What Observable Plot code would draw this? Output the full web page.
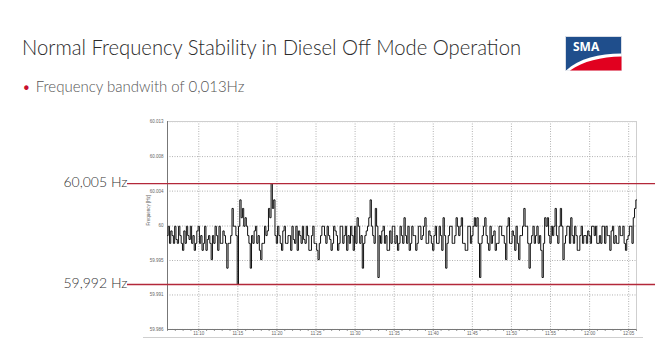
<!DOCTYPE html>
<html>
<head>
<meta charset="utf-8">
<script src="https://cdn.jsdelivr.net/npm/d3@7"></script>
<script src="https://cdn.jsdelivr.net/npm/@observablehq/plot@0.6"></script>
<style>
  html, body { margin: 0; padding: 0; background: #fff; }
  #page { position: relative; width: 662px; height: 353px; overflow: hidden; background: #fff; font-family: Lato, "Open Sans", sans-serif; }
  #title { position: absolute; left: 22px; top: 36px; font-size: 22px; font-weight: 300; color: #2b2b2b; white-space: nowrap; line-height: 1; transform: scaleX(0.92); transform-origin: left top; }
  #subtitle { position: absolute; left: 22px; top: 79px; font-size: 15px; font-weight: 300; color: #555; white-space: nowrap; line-height: 1; }
  #subtitle .bullet { color: #c8102e; margin-right: 5px; }
  #logo { position: absolute; left: 565px; top: 36px; }
  #chart { position: absolute; left: 0; top: 110px; }
  #baseline { position: absolute; left: 143px; top: 337px; width: 500px; height: 1px; background: #cfcfcf; }
</style>
</head>
<body>
<div id="page">
  <div id="title">Normal Frequency Stability in Diesel Off Mode Operation</div>
  <div id="subtitle"><span class="bullet">•</span>Frequency bandwith of 0,013Hz</div>
  <svg id="logo" width="57" height="35" viewBox="0 0 57 35">
    <rect x="0.5" y="0.5" width="56" height="34" fill="#1f4e8c" stroke="#d8dde6" stroke-width="1"/>
    <path d="M1 34.5 C 14 22, 34 18, 56.5 17.5 L 56.5 34.5 Z" fill="#ffffff"/>
    <path d="M5 34.5 C 18 25, 36 21, 56.5 20.5 L 56.5 34.5 Z" fill="#e1001f"/>
    <text x="8" y="15" font-family="Open Sans, Liberation Sans, sans-serif" font-weight="700" font-size="12" fill="#ffffff">SMA</text>
  </svg>
  <div id="chart"></div>
  <div id="baseline"></div>
</div>
<script>
// ---- data ----
const sampleStart = "11:06:00";
const sampleSeconds = 10;
const sampleValues = [
  59.9983, 59.9995, 59.9973, 59.9989, 59.9983, 59.9973, 59.9995, 59.9978, 59.9973, 59.9995, 59.9983, 59.9973, 59.9964, 59.9989, 59.9973, 59.9995, 59.9983, 59.9978, 59.9995, 59.9973,
  59.9983, 59.9964, 59.9973, 59.9989, 59.9995, 59.9973, 59.9983, 59.9964, 59.9973, 59.9995, 59.9964, 59.9978, 59.9983, 59.9973, 59.9952, 59.9983, 59.9973, 59.9995, 59.9983, 59.9964,
  59.9995, 59.9973, 59.9973, 59.9989, 59.9983, 59.9973, 59.9941, 59.9973, 59.9973, 59.9983, 60.0018, 59.9995, 59.9995, 59.9983, 59.9920, 59.9995, 60.0029, 60.0006, 60.0018, 59.9995,
  60.0006, 59.9995, 59.9983, 59.9973, 59.9941, 59.9983, 59.9973, 59.9989, 59.9995, 59.9973, 59.9983, 59.9964, 59.9952, 59.9973, 59.9973, 59.9995, 59.9983, 59.9989, 60.0018, 60.0006,
  60.0050, 60.0018, 60.0029, 59.9983, 59.9973, 59.9995, 59.9983, 59.9973, 59.9964, 59.9989, 59.9995, 59.9973, 59.9973, 59.9983, 59.9983, 59.9964, 59.9995, 59.9978, 59.9973, 59.9995,
  59.9964, 59.9989, 59.9983, 59.9973, 59.9995, 59.9978, 59.9973, 59.9995, 59.9983, 59.9964, 59.9964, 59.9983, 59.9995, 59.9973, 59.9973, 59.9964, 59.9952, 59.9973, 59.9983, 59.9995,
  59.9995, 59.9983, 59.9973, 59.9995, 59.9983, 59.9978, 59.9964, 59.9973, 59.9995, 59.9989, 59.9983, 59.9964, 59.9973, 59.9995, 59.9995, 59.9973, 59.9983, 59.9995, 59.9964, 59.9983,
  59.9973, 59.9995, 59.9983, 59.9964, 59.9995, 59.9973, 60.0006, 59.9995, 59.9973, 59.9983, 59.9941, 59.9973, 59.9983, 59.9989, 59.9995, 60.0006, 60.0029, 59.9995, 59.9983, 59.9973,
  60.0018, 59.9995, 59.9929, 59.9983, 59.9973, 59.9989, 59.9995, 59.9973, 59.9983, 59.9964, 59.9964, 59.9989, 59.9973, 59.9995, 59.9995, 59.9973, 59.9983, 59.9964, 59.9973, 59.9995,
  59.9983, 59.9973, 60.0006, 59.9983, 59.9973, 59.9995, 59.9964, 59.9973, 59.9995, 59.9983, 59.9983, 59.9964, 59.9973, 59.9995, 59.9995, 59.9978, 59.9983, 59.9995, 60.0006, 59.9973,
  59.9973, 59.9989, 59.9983, 59.9973, 59.9964, 59.9983, 59.9995, 59.9973, 59.9973, 59.9995, 59.9983, 59.9964, 60.0006, 59.9983, 59.9941, 59.9973, 59.9983, 59.9995, 59.9995, 59.9973,
  59.9973, 59.9983, 60.0006, 59.9995, 59.9983, 59.9995, 60.0006, 59.9973, 59.9973, 59.9964, 59.9964, 59.9995, 59.9995, 59.9973, 59.9983, 59.9995, 60.0006, 59.9995, 60.0006, 59.9973,
  59.9929, 59.9973, 59.9983, 59.9995, 60.0006, 59.9983, 59.9973, 59.9964, 59.9995, 59.9973, 59.9983, 59.9989, 59.9964, 59.9973, 59.9973, 59.9995, 59.9995, 59.9983, 59.9983, 59.9973,
  59.9952, 59.9995, 60.0006, 59.9973, 59.9973, 59.9989, 59.9983, 59.9964, 59.9995, 59.9973, 59.9952, 59.9983, 59.9983, 59.9995, 60.0018, 59.9995, 59.9995, 59.9973, 59.9941, 59.9973,
  59.9983, 59.9995, 59.9973, 59.9983, 59.9995, 59.9973, 59.9983, 59.9964, 59.9929, 59.9973, 60.0006, 59.9995, 60.0006, 59.9983, 59.9973, 59.9995, 59.9983, 59.9995, 60.0018, 59.9983,
  59.9973, 59.9995, 60.0018, 59.9995, 59.9952, 59.9973, 59.9983, 59.9995, 59.9995, 59.9973, 60.0006, 59.9983, 59.9973, 59.9995, 59.9983, 59.9964, 59.9964, 59.9983, 59.9995, 59.9973,
  59.9983, 59.9983, 59.9973, 59.9989, 59.9983, 59.9973, 59.9995, 59.9995, 59.9983, 59.9995, 59.9973, 59.9973, 59.9983, 59.9973, 59.9995, 59.9995, 59.9973, 59.9995, 59.9983, 59.9983,
  59.9964, 59.9989, 59.9995, 59.9973, 59.9983, 59.9973, 59.9973, 59.9995, 59.9983, 59.9983, 59.9995, 59.9973, 59.9964, 59.9978, 59.9983, 59.9995, 59.9995, 59.9973, 60.0006, 60.0018,
  60.0029
];
const xDomain = ["11:06", "12:06"];
const xTickTimes = ["11:10","11:15","11:20","11:25","11:30","11:35","11:40","11:45","11:50","11:55","12:00","12:05"];
const xTickLabels = ["11:10","11:15","11:20","11:25","11:30","11:35","11:40","11:45","11:50","11:55","12:00","12:05"];
const yDomain = [59.9862, 60.0130];
const yTicks = [59.98621, 59.99065, 59.99509, 59.99953, 60.00403, 60.00848, 60.01298];
const yTickLabels = ["59.986", "59.991", "59.995", "60", "60.004", "60.008", "60.013"];
const yAxisLabel = "Frequency [Hz]";
const annotationValues = [60.005, 59.992];
const annotationLabels = ["60,005 Hz", "59,992 Hz"];
const annotationSpan = ["11:00:53", "12:08:26"];

// ---- build ----
const parseT = s => { const [h, m, sec = 0] = s.split(":").map(Number); return new Date(Date.UTC(2020, 0, 1, h, m, sec)); };
const t0 = parseT(sampleStart);
const series = sampleValues.map((v, i) => ({ t: new Date(+t0 + i * sampleSeconds * 1000), v }));
const xTicks = xTickTimes.map(parseT);
const dom = xDomain.map(parseT);
const minuteTicks = d3.utcMinute.range(dom[0], new Date(+dom[1] + 1));
const annotations = annotationValues.map((v, i) => ({ v, label: annotationLabels[i], x1: parseT(annotationSpan[0]), x2: parseT(annotationSpan[1]) }));

const chart = Plot.plot({
  width: 662, height: 243,
  marginLeft: 167, marginRight: 26, marginTop: 11, marginBottom: 24,
  style: { background: "transparent", overflow: "visible", fontFamily: "Liberation Sans, sans-serif" },
  x: { type: "utc", domain: dom },
  y: { domain: yDomain },
  marks: [
    Plot.gridX(xTicks, { stroke: "#aaa", strokeOpacity: 0.9, strokeDasharray: "1,1.5" }),
    Plot.gridY(yTicks, { stroke: "#aaa", strokeOpacity: 0.9, strokeDasharray: "1,1.5" }),
    Plot.frame({ stroke: "#cfcfcf" }),
    Plot.axisX(minuteTicks, { text: null, tickSize: 2, stroke: "#999", label: null }),
    Plot.axisX(xTicks, { tickSize: 0, tickPadding: 2.5, fontSize: 4.5, fill: "#666", tickFormat: (d, i) => xTickLabels[i], label: null }),
    Plot.axisY(yTicks, { tickSize: 0, tickPadding: 4, fontSize: 4.5, fill: "#666", tickFormat: (d, i) => yTickLabels[i], label: null }),
    Plot.text([yAxisLabel], { frameAnchor: "left", rotate: -90, dx: -19, fontSize: 4.5, fill: "#666" }),
    Plot.ruleX([dom[0]], { stroke: "#777" }),
    Plot.ruleY([yDomain[0]], { stroke: "#777" }),
    Plot.lineY(series, { x: "t", y: "v", curve: "step", stroke: "#111", strokeWidth: 1 }),
    Plot.ruleY(annotations, { y: "v", x1: "x1", x2: "x2", stroke: "#b3283a", strokeWidth: 1.4 }),
    Plot.text(annotations, { x: "x1", y: "v", text: "label", textAnchor: "end", lineAnchor: "middle", dy: -1, fontSize: 14, fontWeight: 300, fill: "#333", fontFamily: "Lato, sans-serif" })
  ]
});
document.getElementById("chart").appendChild(chart);
</script>
</body>
</html>
